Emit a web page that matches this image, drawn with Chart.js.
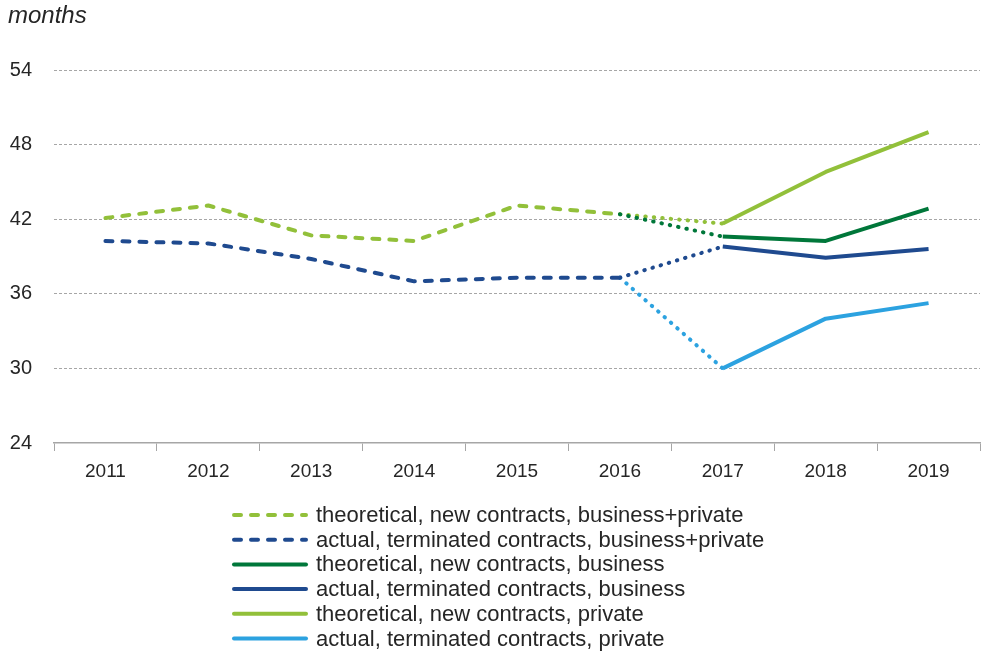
<!DOCTYPE html>
<html>
<head>
<meta charset="utf-8">
<style>
  html, body { margin: 0; padding: 0; background: #ffffff; }
  canvas { display: block; }
</style>
<script src="https://cdn.jsdelivr.net/npm/chart.js@4/dist/chart.umd.min.js"></script>
</head>
<body>
<canvas id="chart" width="982" height="653"></canvas>
<script>
// Contract duration in months, by year
const years = ['2011', '2012', '2013', '2014', '2015', '2016', '2017', '2018', '2019'];
const yTicks = [24, 30, 36, 42, 48, 54];

// combined series (business + private), up to 2016
const theoreticalAll = [42.1, 43.1, 40.7, 40.25, 43.1, 42.4, null, null, null];
const actualAll      = [40.25, 40.05, 38.8, 37.0, 37.3, 37.3, null, null, null];

// split series from 2017; the 2016 point links them to the combined lines
const theoreticalBusiness = [null, null, null, null, null, 42.4, 40.6, 40.25, 42.85];
const actualBusiness      = [null, null, null, null, null, 37.3, 39.8, 38.9, 39.6];
const theoreticalPrivate  = [null, null, null, null, null, 42.4, 41.65, 45.8, 49.0];
const actualPrivate       = [null, null, null, null, null, 37.3, 30.0, 34.0, 35.25];

const seriesLabels = [
  'theoretical, new contracts, business+private',
  'actual, terminated contracts, business+private',
  'theoretical, new contracts, business',
  'actual, terminated contracts, business',
  'theoretical, new contracts, private',
  'actual, terminated contracts, private'
];

const LIGHT_GREEN = '#92c03a';
const DARK_GREEN = '#00773a';
const DARK_BLUE = '#1f4a8f';
const LIGHT_BLUE = '#2ca2e0';

const DASH = [7, 10];
const DOT = [0.5, 8];
const FONT = '"Liberation Sans", Arial, sans-serif';

// first segment (2016 -> 2017) of the split series is dotted
const dottedFirst = {
  borderDash: ctx => (ctx.p0DataIndex === 5 ? DOT : []),
  borderCapStyle: ctx => (ctx.p0DataIndex === 5 ? 'round' : 'butt')
};

function lineSet(label, data, color, dashed) {
  return {
    label: label,
    data: data,
    borderColor: color,
    backgroundColor: color,
    borderWidth: 4,
    borderDash: dashed ? DASH : [],
    borderCapStyle: dashed ? 'round' : 'butt',
    borderJoinStyle: 'round',
    pointRadius: 0,
    pointHoverRadius: 0,
    tension: 0,
    fill: false,
    spanGaps: false,
    segment: dashed ? undefined : dottedFirst,
    legendDashed: dashed
  };
}

// hand-drawn legend below the axis and the "months" unit label
const decorations = {
  id: 'decorations',
  afterDraw(chart) {
    const ctx = chart.ctx;
    ctx.save();
    ctx.fillStyle = '#262626';
    ctx.font = 'italic 24px ' + FONT;
    ctx.textBaseline = 'middle';
    ctx.textAlign = 'left';
    ctx.fillText('months', 8, 16);

    const x0 = 232, x1 = 308, tx = 316, y0 = 515, dy = 24.7;
    ctx.font = '22px ' + FONT;
    chart.data.datasets.forEach((ds, i) => {
      const y = y0 + i * dy;
      ctx.beginPath();
      ctx.strokeStyle = ds.borderColor;
      ctx.lineWidth = 4;
      ctx.lineCap = 'round';
      ctx.setLineDash(ds.legendDashed ? DASH : []);
      ctx.moveTo(x0 + 2, y);
      ctx.lineTo(x1 - 2, y);
      ctx.stroke();
      ctx.setLineDash([]);
      ctx.fillStyle = '#262626';
      ctx.fillText(ds.label, tx, y + 1);
    });
    ctx.restore();
  }
};

new Chart(document.getElementById('chart'), {
  type: 'line',
  data: {
    labels: years,
    datasets: [
      lineSet(seriesLabels[0], theoreticalAll, LIGHT_GREEN, true),
      lineSet(seriesLabels[1], actualAll, DARK_BLUE, true),
      lineSet(seriesLabels[2], theoreticalBusiness, DARK_GREEN, false),
      lineSet(seriesLabels[3], actualBusiness, DARK_BLUE, false),
      lineSet(seriesLabels[4], theoreticalPrivate, LIGHT_GREEN, false),
      lineSet(seriesLabels[5], actualPrivate, LIGHT_BLUE, false)
    ]
  },
  options: {
    responsive: false,
    devicePixelRatio: 1,
    animation: false,
    events: [],
    layout: { padding: { top: 70, right: 2, bottom: 0, left: 0 } },
    plugins: {
      legend: { display: false },
      tooltip: { enabled: false },
      title: { display: false }
    },
    scales: {
      x: {
        type: 'category',
        offset: true,
        afterFit: scale => { scale.height = 210; },
        grid: {
          offset: true,
          drawOnChartArea: false,
          drawTicks: true,
          tickLength: 8,
          color: '#a6a6a6',
          lineWidth: 1
        },
        border: { display: true, color: '#a6a6a6', width: 1.5 },
        ticks: {
          color: '#262626',
          font: { family: FONT, size: 19 },
          padding: 9,
          maxRotation: 0
        }
      },
      y: {
        min: yTicks[0],
        max: yTicks[yTicks.length - 1],
        afterFit: scale => { scale.width = 54; },
        afterBuildTicks: scale => { scale.ticks = yTicks.map(v => ({ value: v })); },
        grid: {
          drawTicks: false,
          color: ctx => (ctx.tick && ctx.tick.value === yTicks[0] ? 'rgba(0,0,0,0)' : '#a6a6a6'),
          lineWidth: 1
        },
        border: { display: false, dash: [3, 2] },
        ticks: {
          color: '#262626',
          font: { family: FONT, size: 20 },
          padding: 22,
          stepSize: 6
        }
      }
    }
  },
  plugins: [decorations]
});
</script>
</body>
</html>
